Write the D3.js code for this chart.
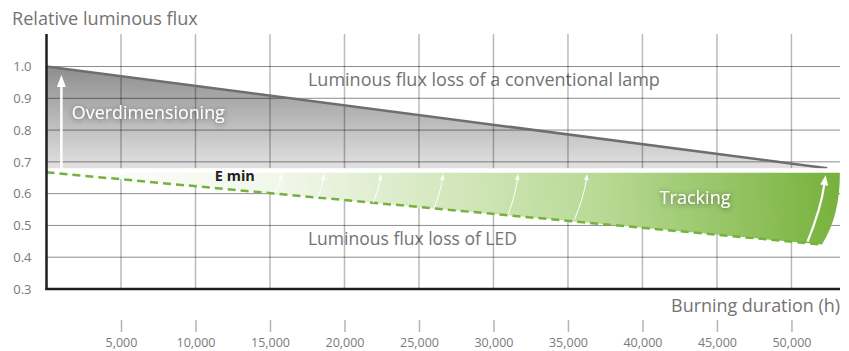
<!DOCTYPE html>
<html><head><meta charset="utf-8">
<script src="https://cdn.jsdelivr.net/npm/d3@7"></script>
<style>
html,body{margin:0;padding:0;background:#fff;}
svg{display:block;font-family:"Open Sans",Lato,sans-serif;}
</style></head><body>
<svg id="chart" width="849" height="351"></svg>
<script>
// ---- data ----
const xTickValues = [5000,10000,15000,20000,25000,30000,35000,40000,45000,50000];
const yTickValues = [0.3,0.4,0.5,0.6,0.7,0.8,0.9,1.0];
const lampHours = [0, 52400];
const lampFlux  = [1.0, 0.68];
const ledHours  = [0, 52050];
const ledFlux   = [0.667, 0.44];
const eMin = 0.673;
const trackEdgeHours = [53250, 53300, 52050];   // right edge of tracking band (top, bend, bottom)
const trackEdgeFlux  = [0.673, 0.533, 0.44];
const arrowBaseHours = [15320,18210,21910,26010,30980,35420,51080];
const arrowBaseFlux  = [0.603,0.589,0.571,0.553,0.533,0.517,0.449];
const arrowTipHours  = [15790,18615,22450,26610,31650,36290,52290];
const arrowTipFlux   = [0.662,0.662,0.662,0.662,0.662,0.662,0.658];
const overHours = 1000;
const overFlux = [0.673, 0.973];
const labels = {
  yTitle: "Relative luminous flux",
  xTitle: "Burning duration (h)",
  lamp: "Luminous flux loss of a conventional lamp",
  led: "Luminous flux loss of LED",
  over: "Overdimensioning",
  track: "Tracking",
  emin: "E min"
};

// ---- scales ----
const svg = d3.select("#chart");
const x = d3.scaleLinear().domain([0,53300]).range([46.5,840.6]);
const y = d3.scaleLinear().domain([0.3,1.0]).range([289,66.5]);
const xEnd = 840, yTop = 34;
const FONT = "'Open Sans',Lato,sans-serif";

const defs = svg.append("defs");
const gg = defs.append("linearGradient").attr("id","grayGrad")
  .attr("gradientUnits","userSpaceOnUse").attr("x1",0).attr("x2",0)
  .attr("y1",y(1.0)).attr("y2",y(eMin));
gg.append("stop").attr("offset",0).attr("stop-color","#8e8e8e");
gg.append("stop").attr("offset",1).attr("stop-color","#e3e3e3");

const gr = defs.append("linearGradient").attr("id","greenGrad")
  .attr("gradientUnits","userSpaceOnUse")
  .attr("x1",x(0)).attr("y1",y(0.44)).attr("x2",x(53300)).attr("y2",y(eMin));
gr.append("stop").attr("offset",0).attr("stop-color","#ffffff");
gr.append("stop").attr("offset",0.3).attr("stop-color","#f1f7e9");
gr.append("stop").attr("offset",0.7).attr("stop-color","#b8d994");
gr.append("stop").attr("offset",1).attr("stop-color","#76b13a");

const f = defs.append("filter").attr("id","shadow")
  .attr("x","-20%").attr("y","-50%").attr("width","140%").attr("height","200%");
f.append("feDropShadow").attr("dx",0).attr("dy",1).attr("stdDeviation",2.5)
  .attr("flood-color","#333").attr("flood-opacity",0.7);

// fit a text to the width it has in the reference
function fitText(sel, target){
  const n = sel.node(); const w = n.getComputedTextLength();
  const fs = parseFloat(sel.attr("font-size"));
  if (w > 0) sel.attr("font-size", (fs*target/w).toFixed(2));
  return sel;
}

// ---- gray area (conventional lamp) ----
const lampPts = lampHours.map((h,i)=>[x(h),y(lampFlux[i])]);
const grayArea = d3.path();
grayArea.moveTo(lampPts[0][0], lampPts[0][1]);
lampPts.slice(1).forEach(p=>grayArea.lineTo(p[0],p[1]));
grayArea.lineTo(lampPts[lampPts.length-1][0], y(eMin));
grayArea.lineTo(x(0), y(eMin));
grayArea.closePath();
svg.append("path").attr("d",grayArea.toString()).attr("fill","url(#grayGrad)");

// ---- text under grid ----
const txtColor = "#737373";
fitText(svg.append("text").attr("x",x(17550)).attr("y",y(0.939))
  .attr("font-size",18).attr("fill",txtColor).text(labels.lamp), 352);
fitText(svg.append("text").attr("x",x(17550)).attr("y",y(0.438))
  .attr("font-size",18).attr("fill",txtColor).text(labels.led), 209);

// ---- grid ----
svg.append("g").selectAll("line").data(xTickValues).join("line")
  .attr("x1",d=>x(d)).attr("x2",d=>x(d)).attr("y1",yTop).attr("y2",y(0.3))
  .attr("stroke","rgba(0,0,0,0.27)").attr("stroke-width",1.5);
svg.append("g").selectAll("line").data(yTickValues.filter(d=>d>0.3)).join("line")
  .attr("x1",x(0)).attr("x2",xEnd).attr("y1",d=>y(d)).attr("y2",d=>y(d))
  .attr("stroke","rgba(0,0,0,0.45)").attr("stroke-width",1);

// lamp line
svg.append("path").datum(lampPts).attr("d",d3.line())
  .attr("fill","none").attr("stroke","#6e6e6e").attr("stroke-width",2.5);

// ---- green tracking area ----
const ledPts = ledHours.map((h,i)=>[x(h),y(ledFlux[i])]);
const ga = d3.path();
ga.moveTo(x(0), y(eMin));
ga.lineTo(x(trackEdgeHours[0]), y(trackEdgeFlux[0]));
ga.quadraticCurveTo(x(trackEdgeHours[1]), y(trackEdgeFlux[1]), x(trackEdgeHours[2]), y(trackEdgeFlux[2]));
for (let i=ledPts.length-1;i>=0;i--) ga.lineTo(ledPts[i][0], ledPts[i][1]);
ga.closePath();
svg.append("path").attr("d",ga.toString()).attr("fill","url(#greenGrad)");

// E min white band
svg.append("line").attr("x1",x(0)).attr("x2",xEnd).attr("y1",y(eMin)).attr("y2",y(eMin))
  .attr("stroke","#fff").attr("stroke-width",4.5);

// LED dashed line
svg.append("path").datum(ledPts).attr("d",d3.line())
  .attr("fill","none").attr("stroke","#74b23e").attr("stroke-width",2.5)
  .attr("stroke-dasharray","8,5");

// ---- tracking arrows ----
function arrow(g, x0,y0,x1,y1, w, headL, headW, curved){
  const cx = curved ? x1 - (x1-x0)*0.25 : x0;
  const cy = curved ? (y0+y1)/2 : y0;
  let dx = x1-cx, dy = y1-cy; const len = Math.hypot(dx,dy); dx/=len; dy/=len;
  const bx = x1 - dx*headL, by = y1 - dy*headL;
  const p = d3.path();
  p.moveTo(x0,y0);
  if (curved) p.quadraticCurveTo(cx,cy,bx+dx*1,by+dy*1); else p.lineTo(bx,by);
  g.append("path").attr("d",p.toString()).attr("fill","none").attr("stroke","#fff").attr("stroke-width",w);
  const nx = -dy, ny = dx;
  const h = d3.path();
  h.moveTo(x1,y1);
  h.lineTo(bx+nx*headW/2, by+ny*headW/2);
  h.lineTo(bx-nx*headW/2, by-ny*headW/2);
  h.closePath();
  g.append("path").attr("d",h.toString()).attr("fill","#fff");
}
const ag = svg.append("g");
arrowBaseHours.forEach((h,i)=>{
  const big = i===arrowBaseHours.length-1;
  arrow(ag, x(h), y(arrowBaseFlux[i]), x(arrowTipHours[i]), y(arrowTipFlux[i]),
    big?2.2:1, big?10:6, big?8:4.5, true);
});
// overdimensioning arrow
arrow(ag, x(overHours), y(overFlux[0]), x(overHours), y(overFlux[1]), 2.5, 12, 9, false);

// ---- annotation texts ----
fitText(svg.append("text").attr("x",x(1700)).attr("y",y(0.836))
  .attr("font-size",18).attr("fill","#fff").attr("filter","url(#shadow)").text(labels.over), 153);
fitText(svg.append("text").attr("x",x(41150)).attr("y",y(0.568))
  .attr("font-size",18).attr("fill","#fff").attr("filter","url(#shadow)").text(labels.track), 71);
fitText(svg.append("text").attr("x",x(11300)).attr("y",y(0.64))
  .attr("font-size",14).attr("font-weight","bold").attr("fill","#222").text(labels.emin), 40);

// ---- axes ----
const yAxis = svg.append("g").attr("transform",`translate(${x(0)},0)`)
  .call(d3.axisLeft(y).tickValues(yTickValues).tickFormat(d3.format(".1f")).tickSize(0).tickPadding(15));
yAxis.select(".domain").remove();
yAxis.selectAll("text").attr("font-size",13).attr("fill","#7a7a7a").attr("font-family",FONT);

const xAxis = svg.append("g").attr("transform","translate(0,320)")
  .call(d3.axisBottom(x).tickValues(xTickValues).tickFormat(d3.format(",")).tickSize(12).tickPadding(6));
xAxis.select(".domain").remove();
xAxis.selectAll("line").attr("stroke","#b5b5b5").attr("stroke-width",1.5);
xAxis.selectAll("text").attr("font-size",12.5).attr("fill","#7a7a7a").attr("font-family",FONT);

// axis lines
svg.append("line").attr("x1",x(0)).attr("x2",x(0)).attr("y1",yTop).attr("y2",y(0.3)+1)
  .attr("stroke","#1e1e1e").attr("stroke-width",2.5);
svg.append("line").attr("x1",x(0)-1).attr("x2",xEnd).attr("y1",y(0.3)).attr("y2",y(0.3))
  .attr("stroke","#1e1e1e").attr("stroke-width",2.5);

// titles
fitText(svg.append("text").attr("x",12).attr("y",25).attr("font-size",17).attr("fill",txtColor).text(labels.yTitle), 186);
fitText(svg.append("text").attr("x",xEnd).attr("y",311.5).attr("text-anchor","end")
  .attr("font-size",18).attr("fill",txtColor).text(labels.xTitle), 169);
</script>
</body></html>
